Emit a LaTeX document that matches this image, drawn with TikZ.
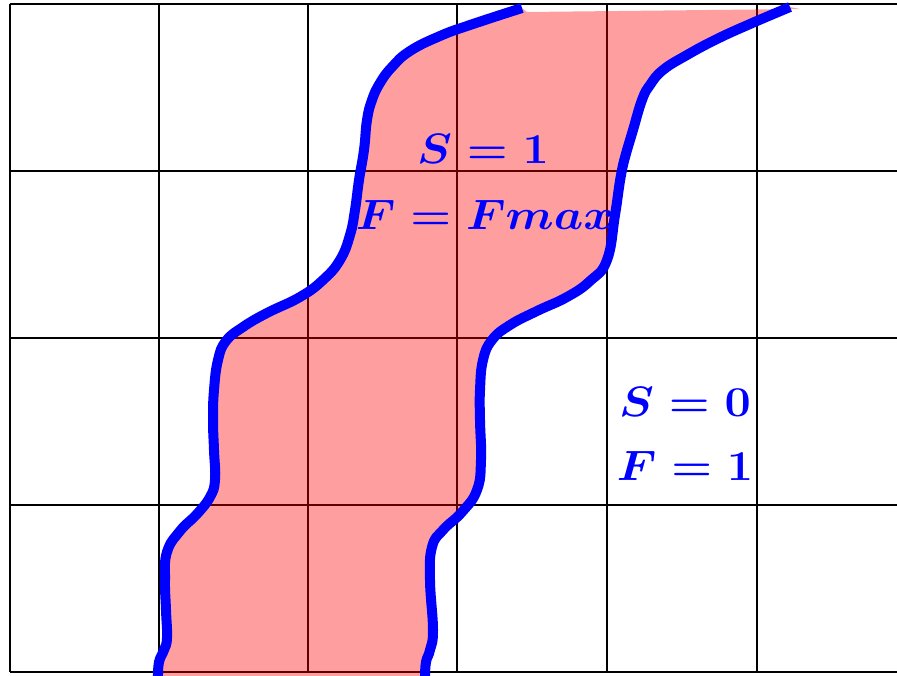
\documentclass[tikz,border=0pt]{standalone}
\usepackage{graphicx}
\usepackage{amsmath}
\begin{document}
\begin{tikzpicture}[x=1pt,y=-1pt,
  gridline/.style={black,line width=2pt},
  bound/.style={blue,line width=10pt,line join=round},
  region/.style={fill=red,fill opacity=0.38},
  lab/.style={text=blue,inner sep=0pt,anchor=base}]
\useasboundingbox (0,0) rectangle (897,675);
\newcommand{\biglab}[1]{\scalebox{2.25}[2.05]{\huge\boldmath$#1$}}
\def\leftpts{(158,677) (159,662) (164,650) (167,638) (166,610) (165,580) (167,552) (180,531) (197,514) (210,497) (215,480) (214,450) (213,420) (214,390) (218,360) (226,341) (243,327) (267,313) (300,297) (323,280) (340,260) (350,235) (355,210) (359,180) (364,150) (367,120) (372,100) (380,83) (392,67) (410,51) (440,36) (470,25) (522,8)}
\def\rightpts{(790,7) (750,24) (717,39) (687,55) (663,70) (650,85) (642,100) (633,130) (627,150) (621,175) (615,215) (607,260) (590,281) (567,297) (537,311) (510,325) (492,340) (483,360) (480,390) (480,420) (481,460) (477,490) (462,512) (443,530) (432,547) (430,580) (433,630) (430,650) (426,662) (425,677)}
% grid
\foreach \x in {10,159,308,457,607,757} \draw[gridline] (\x,4) -- (\x,672);
\foreach \y in {4,171,338,505,672} \draw[gridline] (10,\y) -- (897,\y);
% region
\fill[region] plot[smooth,tension=0.75] coordinates {\leftpts}
  -- (527,12) -- (800,9)
  -- plot[smooth,tension=0.75] coordinates {\rightpts} -- cycle;
% boundaries
\draw[bound] plot[smooth,tension=0.75] coordinates {\leftpts};
\draw[bound] plot[smooth,tension=0.75] coordinates {\rightpts};
% labels
\node[lab] (inS) at (483,163) {\biglab{S=1}};
\node[lab] (inF) at (485,229) {\biglab{F=Fmax}};
\node[lab] (outS) at (685,416) {\biglab{S=0}};
\node[lab] (outF) at (685,480) {\biglab{F=1}};
\end{tikzpicture}
\end{document}
